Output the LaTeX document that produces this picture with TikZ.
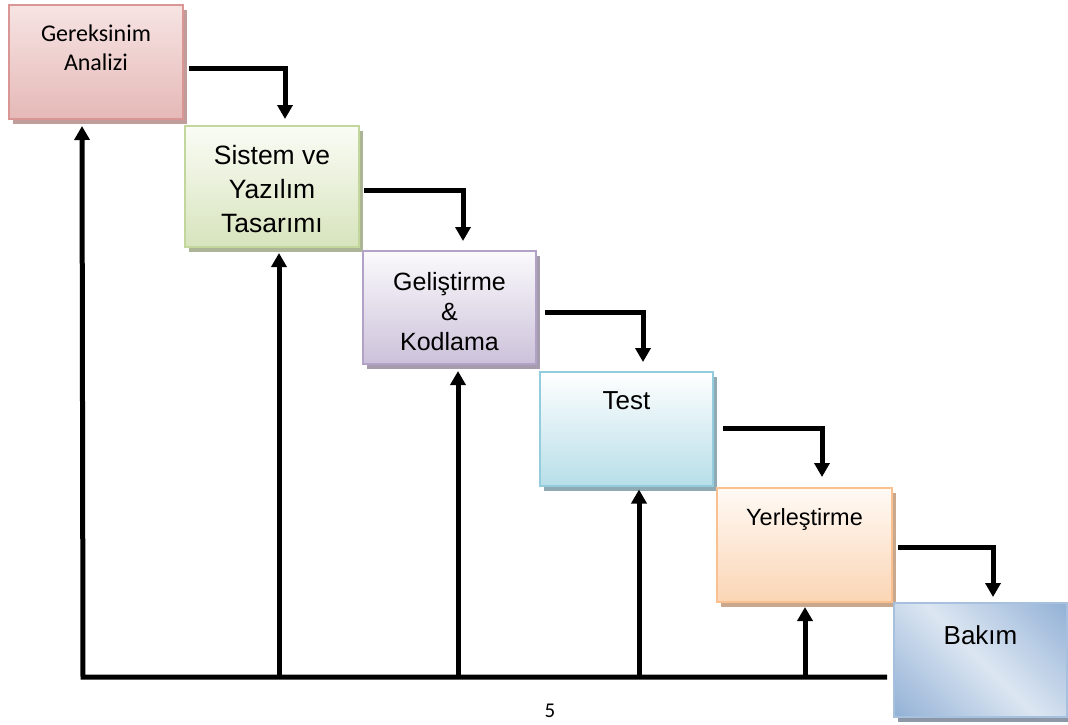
\documentclass[tikz,border=0pt]{standalone}
\usepackage{fontspec}
\setmainfont{Liberation Sans}
\newfontfamily\calibri{Carlito}
\usetikzlibrary{arrows.meta,calc,shadows}
\definecolor{aTop}{HTML}{F6E4E3}\definecolor{aBot}{HTML}{E5B9B7}\definecolor{aBrd}{HTML}{D99694}\definecolor{aShd}{HTML}{C09C9B}
\definecolor{bTop}{HTML}{FAFCF5}\definecolor{bBot}{HTML}{D7E4BD}\definecolor{bBrd}{HTML}{C3D69B}\definecolor{bShd}{HTML}{ACB596}
\definecolor{cTop}{HTML}{FBFAFC}\definecolor{cBot}{HTML}{CCC1DA}\definecolor{cBrd}{HTML}{B3A2C7}\definecolor{cShd}{HTML}{A59DAE}
\definecolor{dTop}{HTML}{FFFFFF}\definecolor{dBot}{HTML}{B7DEE8}\definecolor{dBrd}{HTML}{93CDDD}\definecolor{dShd}{HTML}{8FAAB2}
\definecolor{eTop}{HTML}{FFFAF5}\definecolor{eBot}{HTML}{FBD5B5}\definecolor{eBrd}{HTML}{FAC090}\definecolor{eShd}{HTML}{C9A88E}
\definecolor{bkD}{HTML}{95B3D7}\definecolor{bkL}{HTML}{DCE6F2}\definecolor{fBrd}{HTML}{A7C0DE}\definecolor{fShd}{HTML}{8C98A8}
\pgfdeclarehorizontalshading{bakimshade}{100bp}{color(0bp)=(bkD); color(16bp)=(bkD); color(50bp)=(bkL); color(84bp)=(bkD); color(100bp)=(bkD)}
\tikzset{
  stage/.style={rectangle, line width=2pt, inner sep=0pt},
  sh/.style={drop shadow={shadow xshift=4pt, shadow yshift=-5pt, fill=#1, opacity=1}},
  lbl/.style={anchor=north, inner sep=0pt, align=center, text=black},
  arr/.style={line width=5pt, -{Triangle[width=15pt,length=14pt]}}
}
\begin{document}
\begin{tikzpicture}[x=1pt,y=-1pt]
\useasboundingbox (0,0) rectangle (1068,724);
% boxes
\node[stage, sh=aShd, draw=aBrd, top color=aTop, bottom color=aBot, minimum width=174pt, minimum height=114pt] (b1) at (96,62) {};
\node[stage, sh=bShd, draw=bBrd, top color=bTop, bottom color=bBot, minimum width=174pt, minimum height=121pt] (b2) at (272,186.5) {};
\node[stage, sh=cShd, draw=cBrd, top color=cTop, bottom color=cBot, minimum width=173pt, minimum height=113pt] (b3) at (449.5,307.5) {};
\node[stage, sh=dShd, draw=dBrd, top color=dTop, bottom color=dBot, minimum width=173pt, minimum height=114pt] (b4) at (626.5,429) {};
\node[stage, sh=eShd, draw=eBrd, top color=eTop, bottom color=eBot, minimum width=175pt, minimum height=114pt] (b5) at (804.5,545) {};
\node[stage, sh=fShd, draw=fBrd, shading=bakimshade, shading angle=45, minimum width=173pt, minimum height=114pt] (b6) at (980.5,660) {};
% texts
\node[lbl, font=\calibri\fontsize{24}{29}\selectfont] (t1) at ($(b1.north)+(0,21)$) {Gereksinim\\Analizi};
\node[lbl, font=\fontsize{26.5}{34}\selectfont] (t2) at ($(b2.north)+(0,20)$) {Sistem ve\\Yazılım\\Tasarımı};
\node[lbl, font=\fontsize{25}{30}\selectfont] (t3) at ($(b3.north)+(0,22)$) {Geliştirme\\\&\\Kodlama};
\node[lbl, font=\fontsize{26}{31}\selectfont] (t4) at ($(b4.north)+(0,20)$) {Test};
\node[lbl, font=\fontsize{23.5}{29}\selectfont] (t5) at ($(b5.north)+(0,21)$) {Yerleştirme};
\node[lbl, font=\fontsize{26}{31}\selectfont] (t6) at ($(b6.north)+(0,23)$) {Bakım};
% forward arrows
\draw[arr] ($(b1.east)+(5,6)$) -| ($(b2.north)+(13,-6)$);
\draw[arr] ($(b2.east)+(4,3.5)$) -| ($(b3.north)+(13.5,-9)$);
\draw[arr] ($(b3.east)+(8,4.5)$) -| ($(b4.north)+(16.5,-9)$);
\draw[arr] ($(b4.east)+(9,-1)$) -| ($(b5.north)+(17.5,-10)$);
\draw[arr] ($(b5.east)+(5,2)$) -| ($(b6.north)+(12.5,-5)$);
% feedback bus
\coordinate (busL) at (83,677);
\coordinate (busR) at (887,677);
\coordinate (v1) at ($(b1.south west)+(74,6)$);
\coordinate (v2) at ($(b2.south west)+(95,5)$);
\coordinate (v3) at ($(b3.south west)+(96,6)$);
\coordinate (v4) at ($(b4.south west)+(100,2.5)$);
\coordinate (v5) at ($(b5.south west)+(89,4)$);
\draw[arr] (busR) -- (busL) -- (v1);
\draw[arr] (v2 |- busL) -- (v2);
\draw[arr] (v3 |- busL) -- (v3);
\draw[arr] (v4 |- busL) -- (v4);
\draw[arr] (v5 |- busL) -- (v5);
% page number
\node[anchor=north, inner sep=0pt, font=\calibri\fontsize{21}{25}\selectfont] (pg) at (550,704) {5};
\end{tikzpicture}
\end{document}
